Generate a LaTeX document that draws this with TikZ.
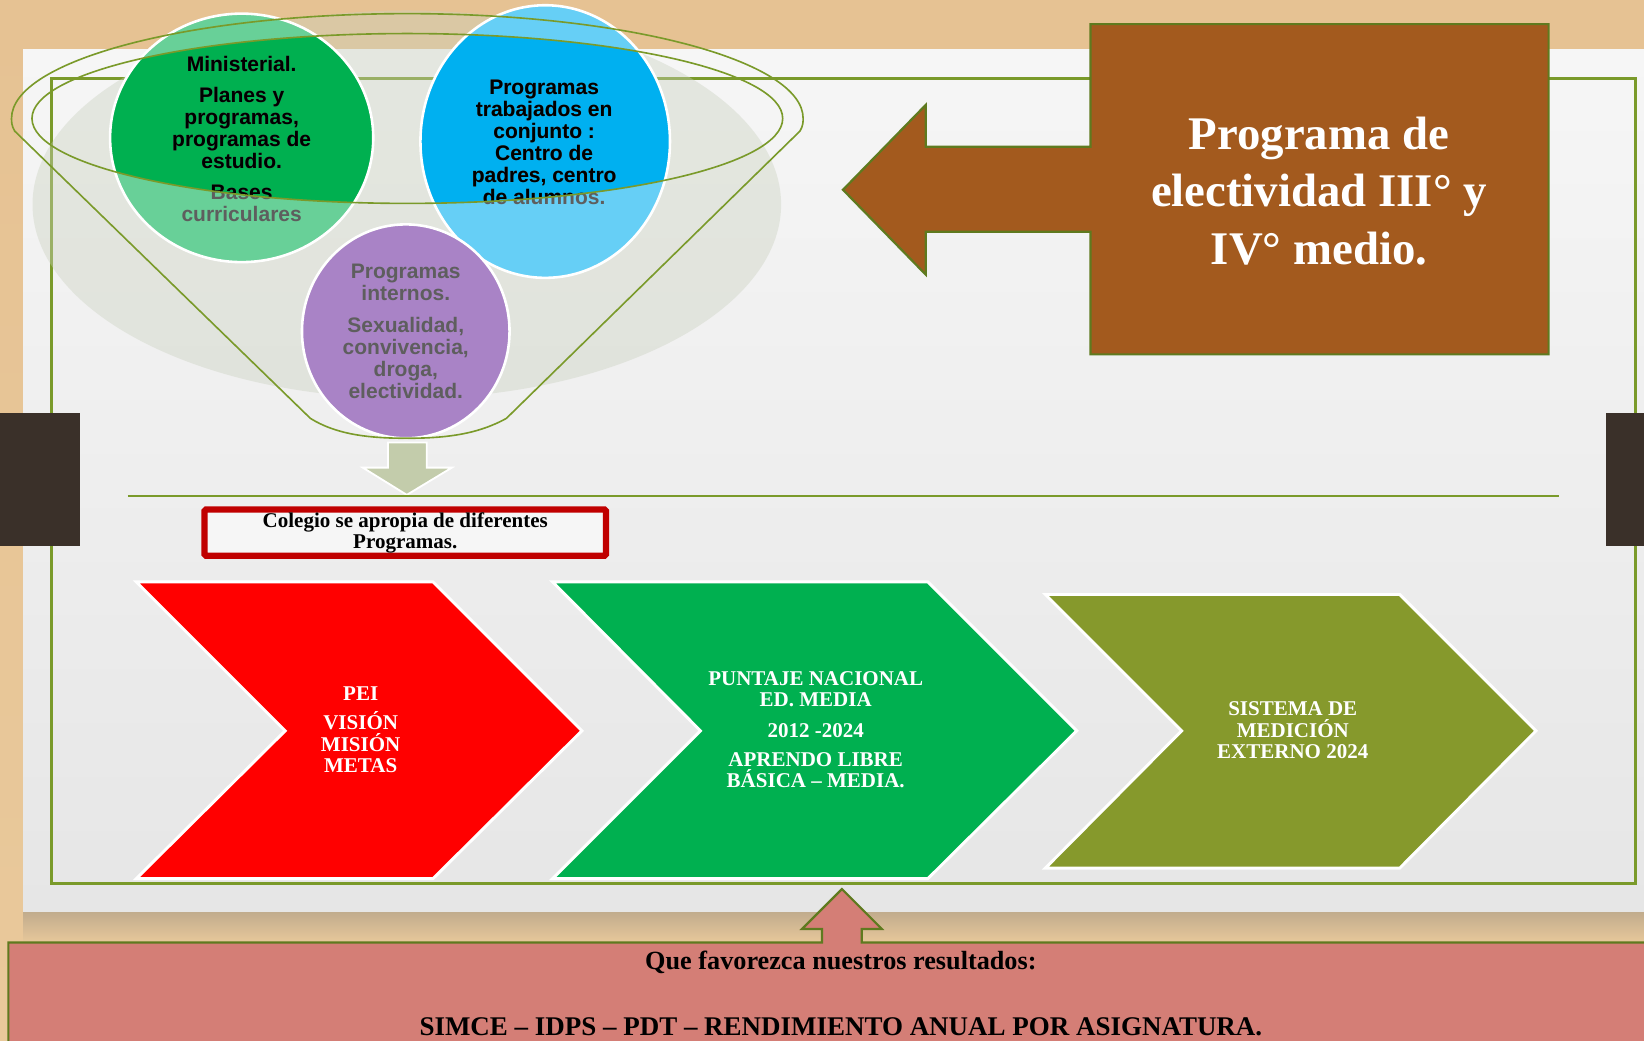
\documentclass[tikz,border=0pt]{standalone}
\usepackage{fontspec}
\setmainfont{Liberation Serif}
\setsansfont{Liberation Sans}
\definecolor{mytan}{HTML}{E9C99B}
\definecolor{tantop}{HTML}{E6C293}
\definecolor{shadowc}{HTML}{BCA88B}
\definecolor{paperA}{HTML}{F6F6F6}
\definecolor{paperB}{HTML}{E6E6E6}
\definecolor{olivefr}{HTML}{7A9A2A}
\definecolor{olivedk}{HTML}{5F7A1F}
\definecolor{clipbrown}{HTML}{3A3029}
\definecolor{greyell}{HTML}{CAD1BF}
\definecolor{gdark}{HTML}{00B050}
\definecolor{glight}{HTML}{68D098}
\definecolor{bdark}{HTML}{00B0F0}
\definecolor{blight}{HTML}{66CFF6}
\definecolor{purp}{HTML}{A983C6}
\definecolor{txtgrey}{HTML}{5E5E5E}
\definecolor{arrgrey}{HTML}{C3CCAB}
\definecolor{boxred}{HTML}{C00000}
\definecolor{chred}{HTML}{FF0000}
\definecolor{chgreen}{HTML}{00B050}
\definecolor{cholive}{HTML}{86992C}
\definecolor{mybrown}{HTML}{A35A1E}
\definecolor{mypink}{HTML}{D47E76}
\begin{document}
\begin{tikzpicture}[x=0.05cm,y=-0.05cm,
  sanstxt/.style={font=\sffamily\bfseries\fontsize{28.5pt}{29.9pt}\selectfont, align=center, inner sep=0pt},
  chevtxt/.style={font=\bfseries\fontsize{28.5pt}{29.5pt}\selectfont, align=center, text=white, inner sep=0pt},
  chevshape/.style={draw=white, line width=4pt, line join=miter},
  bubble/.style={draw=white, line width=3.5pt},
  funnelline/.style={draw=olivefr, line width=2.2pt},
  framestyle/.style={draw=olivefr, line width=3.8pt},
  outlined/.style={draw=olivedk, line width=3pt, line join=miter},
]
\useasboundingbox (0,0) rectangle (1568,992);
\clip (0,0) rectangle (1568,992);
% background and paper
\shade[top color=tantop, bottom color=mytan] (0,0) rectangle (1568,992);
\shade[top color=shadowc, bottom color=mytan] (22,866) rectangle (1568,900);
\shade[top color=paperA, bottom color=paperB] (22,47) rectangle (1568,869);
\draw[framestyle] (49,75) rectangle (1560,843);
\fill[clipbrown] (0,394) rectangle (76,521);
\fill[clipbrown] (1532,394) rectangle (1568,521);
% big faint ellipse
\fill[greyell, opacity=0.4] (388,195) ellipse [x radius=357, y radius=185];
% bubbles
\fill[glight] (230.5,131.5) ellipse [x radius=125.5, y radius=118.5];
\fill[blight] (520,135) ellipse [x radius=119, y radius=130];
\begin{scope}
  \clip (388.5,113) ellipse [x radius=358, y radius=81];
  \fill[gdark] (230.5,131.5) ellipse [x radius=125.5, y radius=118.5];
  \fill[bdark] (520,135) ellipse [x radius=119, y radius=130];
\end{scope}
\draw[bubble] (230.5,131.5) ellipse [x radius=125.5, y radius=118.5];
\draw[bubble] (520,135) ellipse [x radius=119, y radius=130];
\node[sanstxt, text=txtgrey] (mintxt) at (230.5,132.5) {Ministerial.\\[12.8pt]Planes y\\programas,\\programas de\\estudio.\\[11.4pt]Bases\\curriculares};
\node[sanstxt, text=txtgrey] (conjtxt) at (519,135.5) {Programas\\trabajados en\\conjunto :\\Centro de\\padres, centro\\de alumnos.};
\begin{scope}
  \clip (388.5,113) ellipse [x radius=358, y radius=81];
  \node[sanstxt, text=black] (mintxtdark) at (230.5,132.5) {Ministerial.\\[12.8pt]Planes y\\programas,\\programas de\\estudio.\\[11.4pt]Bases\\curriculares};
  \node[sanstxt, text=black] (conjtxtdark) at (519,135.5) {Programas\\trabajados en\\conjunto :\\Centro de\\padres, centro\\de alumnos.};
\end{scope}
\draw[bubble, fill=purp] (387,316) ellipse [x radius=99, y radius=102];
\node[sanstxt, text=txtgrey] (inttxt) at (387,316) {Programas\\internos.\\[12.8pt]Sexualidad,\\convivencia,\\droga,\\electividad.};
% funnel
\draw[funnelline] (483,399) -- (763,125) .. controls (766,120) and (766,116) .. (766,113)
  arc[start angle=0, end angle=-180, x radius=377.5, y radius=100]
  .. controls (11,116) and (11,120) .. (14,125) -- (296,399)
  .. controls (320,414) and (350,418) .. (388,418) .. controls (426,418) and (456,414) .. (483,399);
\draw[funnelline] (388.5,113) ellipse [x radius=358, y radius=81];
% down arrow and separator
\draw[draw=white, line width=2.5pt, fill=arrgrey, line join=miter] (370,422) -- (407,422) -- (407,446) -- (431,446) -- (388,472) -- (346,446) -- (370,446) -- cycle;
\draw[olivefr, line width=3.8pt] (122,473) -- (1487,473);
\node[draw=boxred, line width=8.5pt, fill=paperA, rounded corners=2pt, minimum width=19.15cm, minimum height=2.2cm, inner sep=0pt, font=\bfseries\fontsize{28.5pt}{28.5pt}\selectfont, align=center] (colegio) at (386.5,508) {Colegio se apropia de diferentes\\Programas.};
% chevrons
\draw[chevshape, fill=chred] (130,555) -- (413,555) -- (555,697) -- (413,838) -- (130,838) -- (272,697) -- cycle;
\draw[chevshape, fill=chgreen] (527,555) -- (885,555) -- (1027,697) -- (885,838) -- (527,838) -- (668,697) -- cycle;
\draw[chevshape, fill=cholive] (997,567) -- (1335,567) -- (1465,697) -- (1335,828) -- (997,828) -- (1127,697) -- cycle;
\node[chevtxt] (pei) at (344,696) {PEI\\[10pt]VISIÓN\\MISIÓN\\METAS};
\node[chevtxt] (puntaje) at (778,696) {PUNTAJE NACIONAL\\ED. MEDIA\\[11.4pt]2012 -2024\\[10pt]APRENDO LIBRE\\BÁSICA – MEDIA.};
\node[chevtxt] (sistema) at (1233,696.5) {SISTEMA DE\\MEDICIÓN\\EXTERNO 2024};
% brown box with arrow
\draw[outlined, fill=mybrown] (1040,23) -- (1477,23) -- (1477,338) -- (1040,338) -- (1040,221) -- (883,221) -- (883,262) -- (804,181) -- (883,100) -- (883,140) -- (1040,140) -- cycle;
\node[font=\bfseries\fontsize{63.5pt}{78.2pt}\selectfont, text=white, align=center, inner sep=0pt] (prog) at (1258,182) {Programa de\\electividad III° y\\IV° medio.};
% pink box with up arrow
\draw[outlined, fill=mypink] (8,1010) -- (8,899) -- (784,899) -- (784,886) -- (765,886) -- (803,848) -- (841,886) -- (822,886) -- (822,899) -- (1590,899) -- (1590,1010) -- cycle;
\node[font=\bfseries\fontsize{35.6pt}{40pt}\selectfont, inner sep=0pt] (fav) at (802,918) {Que favorezca nuestros resultados:};
\node[font=\bfseries\fontsize{36.6pt}{40pt}\selectfont, inner sep=0pt] (simce) at (802,979) {SIMCE – IDPS – PDT – RENDIMIENTO ANUAL POR ASIGNATURA.};
\end{tikzpicture}
\end{document}
